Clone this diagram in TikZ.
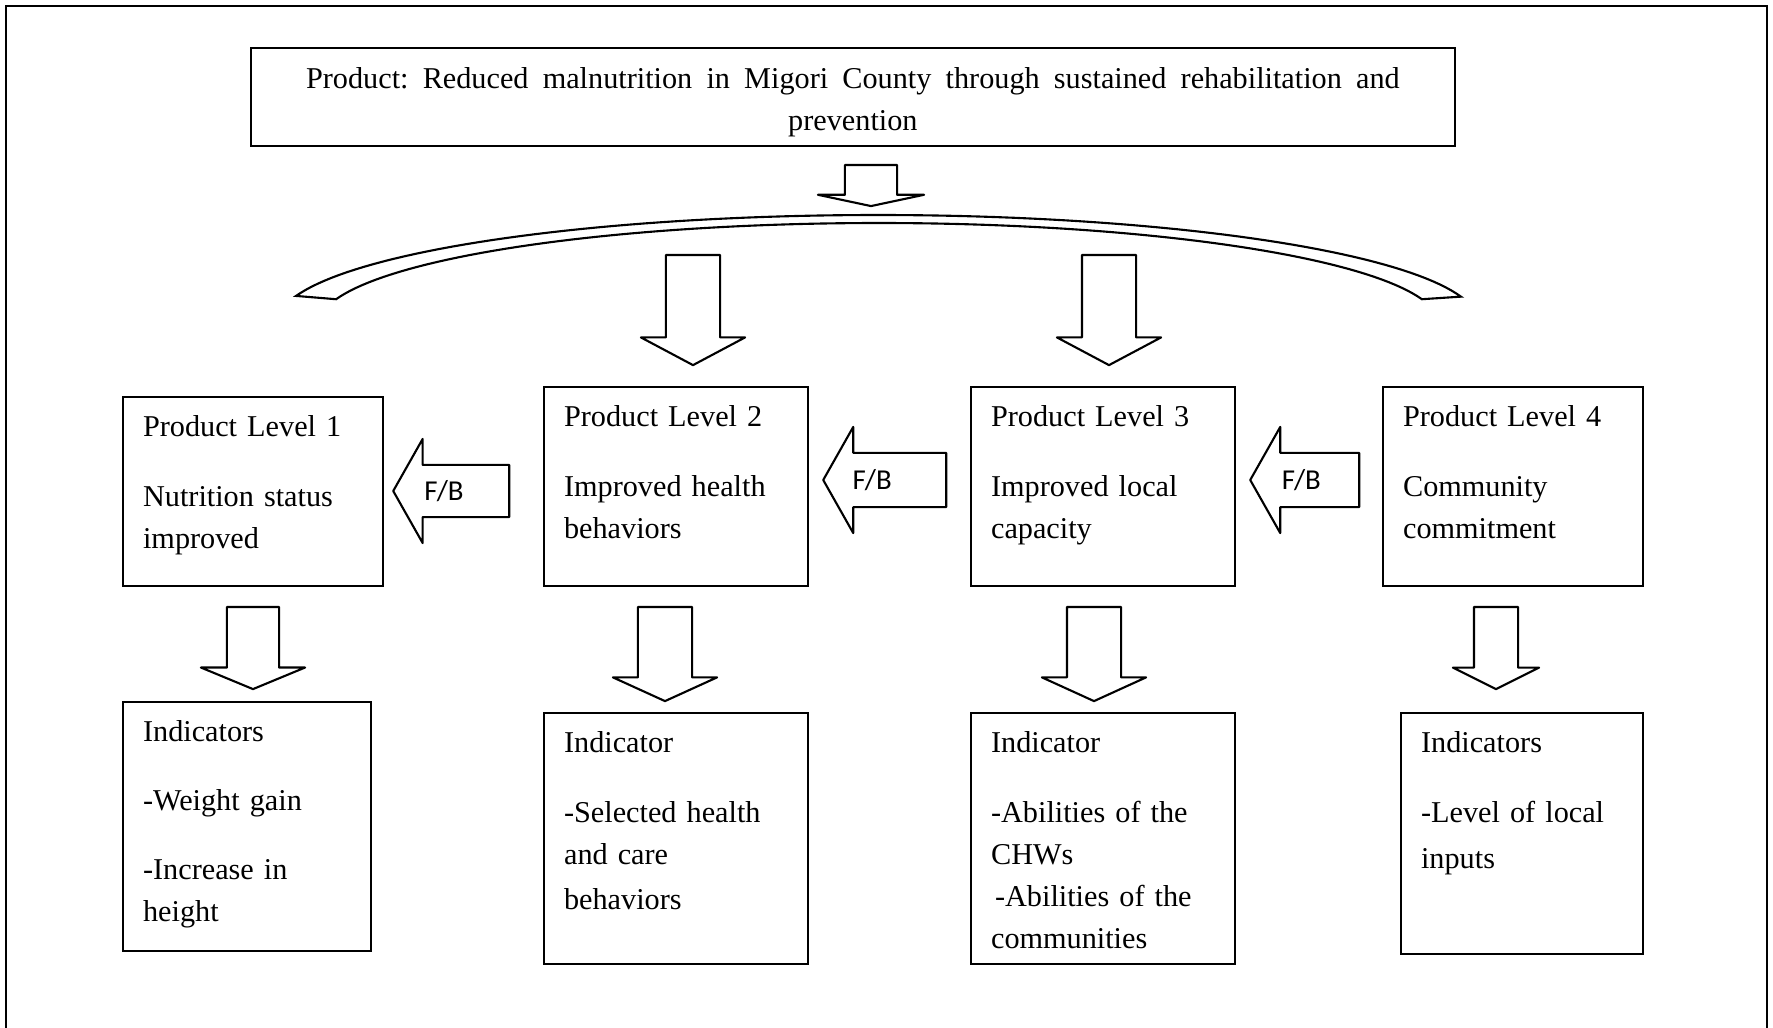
\documentclass[tikz,border=0pt]{standalone}
\usepackage{fontspec}
\setmainfont{Liberation Serif}
\newfontfamily\fbfont{Carlito}
\usetikzlibrary{shapes.arrows,calc}

\begin{document}
\begin{tikzpicture}[x=0.01cm, y=-0.01cm,
        prodbox/.style={draw, line width=0.6pt, anchor=north west, align=center, text width=11.63cm, inner xsep=0.2cm, inner ysep=0.19cm, text height=0.21cm, text depth=0.39cm, font=\fontsize{8.6}{12}\selectfont},
        levelbox/.style={draw, line width=0.6pt, anchor=north west, align=left, inner xsep=0.2cm, inner ysep=0.18cm, text height=0.21cm, font=\fontsize{8.6}{12}\selectfont},
        blockarrow/.style={single arrow, draw, line width=0.6pt, line join=round, inner xsep=0pt, text height=0pt, text depth=0pt},
        downarrow/.style={blockarrow, rotate=-90, anchor=tail},
        fbarrow/.style={blockarrow, shape border rotate=180, anchor=tip, single arrow head extend=0.26cm, single arrow tip angle=121},
        fblabel/.style={inner sep=0pt, font=\fbfont\fontsize{8.2}{10}\selectfont}
    ]
    \useasboundingbox (0,0) rectangle (1773,1028);
    % page frame
    \draw[line width=0.8pt] (6,1028) -- (6,6) -- (1767,6) -- (1767,1028);

    % product
    \node[prodbox] (prod) at (250,47) {\makebox[10.93cm]{Product:\ \hfill Reduced \hfill malnutrition \hfill in \hfill Migori \hfill County \hfill through \hfill sustained \hfill rehabilitation \hfill and}\\prevention};
    \node[downarrow, inner ysep=0.25cm, minimum height=0.41cm, single arrow head extend=0.27cm, single arrow tip angle=156] (top) at (871,164) {};

    % curved band
    \draw[line width=0.6pt] plot[domain=165.9:13.7, samples=90] ({878+600*cos(\x)},{322-107*sin(\x)})
        -- plot[domain=14.2:165.8, samples=90] ({879+560*cos(\x)},{324-101*sin(\x)}) -- cycle;
    \node[downarrow, inner ysep=0.26cm, minimum height=1.10cm, single arrow head extend=0.25cm, single arrow tip angle=124] (up2) at (693,254) {};
    \node[downarrow, inner ysep=0.26cm, minimum height=1.10cm, single arrow head extend=0.25cm, single arrow tip angle=124] (up3) at (1109,254) {};

    % product levels
    \node[levelbox, text width=2.2cm, text depth=1.32cm] (lvl1) at (122,396) {Product Level 1\\[0.28cm]Nutrition status\\improved};
    \node[levelbox, text width=2.24cm, text depth=1.42cm] (lvl2) at (543,386) {Product Level 2\\[0.28cm]Improved health\\behaviors};
    \node[levelbox, text width=2.24cm, text depth=1.42cm] (lvl3) at (970,386) {Product Level 3\\[0.28cm]Improved local\\capacity};
    \node[levelbox, text width=2.2cm, text depth=1.42cm] (lvl4) at (1382,386) {Product Level 4\\[0.28cm]Community\\commitment};

    % feedback
    \node[fbarrow, inner ysep=0.25cm, minimum height=1.16cm] (fb1) at (392,491) {};
    \node[fbarrow, inner ysep=0.26cm, minimum height=1.23cm] (fb2) at (822,480) {};
    \node[fbarrow, inner ysep=0.26cm, minimum height=1.09cm] (fb3) at (1249,480) {};
    \node[fblabel] (fb1txt) at ($(fb1.tip)!0.44!(fb1.tail)$) {F/B};
    \node[fblabel] (fb2txt) at ($(fb2.tip)!0.40!(fb2.tail)$) {F/B};
    \node[fblabel] (fb3txt) at ($(fb3.tip)!0.47!(fb3.tail)$) {F/B};

    % to indicators
    \node[downarrow, inner ysep=0.25cm, minimum height=0.82cm, single arrow head extend=0.26cm, single arrow tip angle=135] (dn1) at (253,606) {};
    \node[downarrow, inner ysep=0.26cm, minimum height=0.94cm, single arrow head extend=0.25cm, single arrow tip angle=131] (dn2) at (665,606) {};
    \node[downarrow, inner ysep=0.26cm, minimum height=0.94cm, single arrow head extend=0.25cm, single arrow tip angle=131] (dn3) at (1094,606) {};
    \node[downarrow, inner ysep=0.21cm, minimum height=0.82cm, single arrow head extend=0.21cm, single arrow tip angle=127] (dn4) at (1496,606) {};

    % indicators
    \node[levelbox, text width=2.08cm, text depth=1.92cm] (ind1) at (122,701) {Indicators\\[0.27cm]-Weight gain\\[0.27cm]-Increase in\\height};
    \node[levelbox, text width=2.24cm, text depth=1.94cm] (ind2) at (543,712) {Indicator\\[0.28cm]-Selected health\\and care\\[0.03cm]behaviors};
    \node[levelbox, text width=2.24cm, text depth=1.94cm] (ind3) at (970,712) {Indicator\\[0.28cm]-Abilities of the\\CHWs\\\hspace{0.04cm}-Abilities of the\\communities};
    \node[levelbox, text width=2.02cm, text depth=1.84cm] (ind4) at (1400,712) {Indicators\\[0.28cm]-Level of local\\[0.04cm]inputs};
\end{tikzpicture}
\end{document}
